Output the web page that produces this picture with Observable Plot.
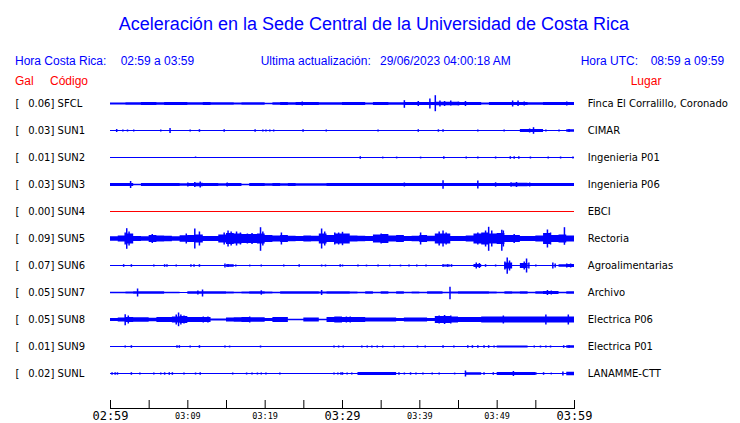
<!DOCTYPE html>
<html><head><meta charset="utf-8">
<script src="https://cdn.jsdelivr.net/npm/d3@7"></script>
<script src="https://cdn.jsdelivr.net/npm/@observablehq/plot@0.6"></script>
<style>
body{margin:0;background:#fff;}
#wrap{position:relative;width:740px;height:423px;overflow:hidden;background:#fff;font-family:"Liberation Sans",Arial,sans-serif;}
#hdr{position:relative;height:88px;}
.t{position:absolute;white-space:pre;line-height:1;font-size:12px;color:#0000ff;}
.r{color:#ff0000;}
#title{position:absolute;left:0;width:748px;text-align:center;top:14.8px;font-size:18px;line-height:1;color:#0000ff;}
#chart svg{display:block;}
</style></head>
<body><div id="wrap">
<div id="hdr">
<div id="title">Aceleración en la Sede Central de la Universidad de Costa Rica</div>
<div class="t" style="left:15px;top:54.8px">Hora Costa Rica:</div>
<div class="t" style="left:120.7px;top:54.8px">02:59 a 03:59</div>
<div class="t" style="left:260.7px;top:54.8px">Ultima actualización:</div>
<div class="t" style="left:380px;top:54.8px">29/06/2023 04:00:18 AM</div>
<div class="t" style="left:580.7px;top:54.8px">Hora UTC:</div>
<div class="t" style="left:650.7px;top:54.8px">08:59 a 09:59</div>
<div class="t r" style="left:15px;top:74.8px">Gal</div>
<div class="t r" style="left:50px;top:74.8px">Código</div>
<div class="t r" style="left:630.7px;top:74.8px">Lugar</div>
</div>
<div id="chart"></div>
</div>
<script>
// Stations
const stations = ["SFCL","SUN1","SUN2","SUN3","SUN4","SUN5","SUN6","SUN7","SUN8","SUN9","SUNL"];
const gal = [0.06,0.03,0.01,0.03,0.00,0.09,0.07,0.05,0.05,0.01,0.02];
const places = ["Finca El Corralillo, Coronado","CIMAR","Ingenieria P01","Ingenieria P06","EBCI","Rectoria","Agroalimentarias","Archivo","Electrica P06","Electrica P01","LANAMME-CTT"];

// Time axis (minutes after 02:59)
const tickMinutes = [0,5,10,15,20,25,30,35,40,45,50,55,60];
const majorTicks = [0,30,60];
const majorLabels = ["02:59","03:29","03:59"];
const minorTicks = [10,20,40,50];
const minorLabels = ["03:09","03:19","03:39","03:49"];

// Per-minute trace envelope (half amplitude, relative units)
const envSFCL = [1.0,1.0,1.2,1.3,1.5,1.5,1.3,1.5,1.5,1.5,1.3,1.2,1.5,1.3,1.3,1.3,1.0,1.3,1.2,1.3,0.8,1.3,1.5,1.2,1.6,1.6,1.5,1.3,1.2,1.3,1.5,1.5,1.5,1.0,1.5,1.5,1.3,1.3,1.5,1.5,1.5,1.5,1.7,1.7,1.7,1.5,1.5,1.5,1.0,1.5,1.5,1.5,1.6,1.6,1.3,1.2,1.5,1.5,1.5,1.5];
const envSUN1 = [0.5,0.5,0.5,0.5,0.5,0.5,0.5,0.5,0.5,0.5,0.5,0.5,0.5,0.5,0.5,0.5,0.5,0.5,0.5,0.5,0.5,0.5,0.5,0.5,0.5,0.5,0.5,0.5,0.5,0.5,0.5,0.5,0.5,0.5,0.5,0.5,0.5,0.5,0.5,0.5,0.5,0.5,0.5,0.5,0.5,0.5,0.5,0.5,0.5,0.5,0.5,0.5,0.5,1.5,1.5,1.5,0.5,0.5,0.5,1.2];
const envSUN2 = [0.5,0.5,0.5,0.5,0.5,0.5,0.5,0.5,0.5,0.5,0.5,0.5,0.5,0.5,0.5,0.5,0.5,0.5,0.5,0.5,0.5,0.5,0.5,0.5,0.5,0.5,0.5,0.5,0.5,0.5,0.5,0.5,0.5,0.5,0.5,0.5,0.5,0.5,0.5,0.5,0.5,0.5,0.5,0.5,0.5,0.5,0.5,0.5,0.5,0.5,0.5,0.5,0.5,0.5,0.5,0.5,0.5,0.5,0.5,0.5];
const envSUN3 = [1.5,1.5,1.5,0.8,1.5,1.5,1.5,1.5,1.5,1.3,1.5,1.8,1.5,1.5,1.3,1.5,1.5,0.8,1.5,1.5,1.3,1.5,1.3,1.5,1.2,1.3,1.3,1.3,1.5,1.5,1.5,1.5,1.5,1.5,1.5,1.5,1.5,1.5,1.5,1.5,1.5,1.5,1.5,1.5,1.5,1.5,1.5,1.5,1.5,1.5,1.5,1.5,1.7,1.7,1.5,1.5,1.5,1.5,1.5,1.5];
const envSUN4 = [0.5,0.5,0.5,0.5,0.5,0.5,0.5,0.5,0.5,0.5,0.5,0.5,0.5,0.5,0.5,0.5,0.5,0.5,0.5,0.5,0.5,0.5,0.5,0.5,0.5,0.5,0.5,0.5,0.5,0.5,0.5,0.5,0.5,0.5,0.5,0.5,0.5,0.5,0.5,0.5,0.5,0.5,0.5,0.5,0.5,0.5,0.5,0.5,0.5,0.5,0.5,0.5,0.5,0.5,0.5,0.5,0.5,0.5,0.5,0.5];
const envSUN5 = [2.3,3,5,2.5,2.3,3.5,3,2.8,2.3,3.2,3.5,4,2.5,2.5,4,5.5,5,4.5,4.5,5,3.5,3,3.5,2.8,2.5,3,2.8,5,3.5,5,5,3,2.8,2.5,4,4.5,3,3.5,2.5,2.8,3.5,2.8,5,5,2.5,2.5,3,5,6,5,5.5,3.5,3.5,2.5,2.5,3,5.5,3.5,4,3];
const envSUN6 = [0.5,0.5,0.5,0.5,0.5,0.5,0.5,0.5,0.5,0.5,0.5,0.5,0.5,0.5,0.5,1.2,0.5,0.5,0.5,0.5,0.5,0.5,0.5,0.5,0.5,0.5,0.5,0.5,0.5,0.5,0.5,0.5,0.5,0.5,0.5,0.5,0.5,0.5,0.5,0.5,0.5,0.5,0.5,1.0,0.5,0.5,0.5,1.5,0.5,0.5,0.5,3.0,0.5,2.5,0.5,0.5,0.5,0.5,1.2,1.5];
const envSUN7 = [0.8,0.8,1.0,1.3,1.3,1.3,1.3,0.8,0.7,0.6,1.3,1.3,1.3,1.3,1.3,1.0,0.7,1.0,1.3,1.3,1.0,0.8,1.3,1.3,1.3,1.3,1.3,1.0,1.3,1.3,1.3,1.0,0.8,1.3,0.8,1.3,0.7,1.2,0.7,1.0,0.7,1.2,1.2,0.8,1.0,1.3,1.3,1.2,1.3,1.0,0.7,1.3,1.0,1.3,0.8,1.2,1.5,1.5,0.8,1.3];
const envSUN8 = [1.5,2.0,2.5,2.3,2.3,1.8,2.5,2.5,3.0,3.5,2.5,2.5,2.5,1.0,1.0,2.0,2.2,2.5,2.2,2.2,1.5,2.5,2.5,0.8,0.8,2.0,2.0,0.8,2.5,3.0,2.5,2.5,2.5,2.0,2.0,2.0,2.0,1.5,2.0,2.0,2.0,1.5,3.5,3.5,3.0,2.5,2.5,2.5,3.0,3.0,3.0,3.0,3.0,3.0,3.0,3.0,3.0,3.0,3.0,3.0];
const envSUN9 = [0.5,0.5,0.5,0.5,0.5,0.5,0.5,0.5,0.5,0.5,0.5,0.5,0.5,0.5,0.5,0.5,0.5,0.5,0.5,0.5,0.5,0.5,0.5,0.5,0.5,0.5,0.5,0.5,0.5,0.5,0.5,0.5,0.5,0.5,0.5,0.5,0.5,0.5,0.5,0.5,0.5,0.5,0.5,0.5,0.5,0.5,0.5,0.5,0.5,0.5,1.0,1.0,1.0,1.0,0.5,0.5,0.5,0.5,0.5,1.2];
const envSUNL = [0.5,0.5,0.5,0.5,0.5,0.5,0.5,0.5,0.5,0.5,0.5,0.5,0.5,0.5,0.5,0.5,0.5,0.5,0.5,0.5,0.5,0.5,0.5,0.5,0.5,0.5,0.5,0.5,0.5,0.5,0.5,0.5,1.5,1.5,1.5,1.5,1.5,0.5,0.5,0.5,0.5,0.5,0.5,0.5,0.5,0.5,1.3,1.3,0.5,0.5,1.5,1.5,1.5,1.5,1.5,0.5,0.5,0.5,0.5,1.8];

// Individual peaks: [minute, up, down]
const spkSFCL = [[24.8,2,2],[38.0,3.3,4.3],[39.8,2.5,2.5],[41.3,5,5],[42.0,8.3,7.7],[42.6,3,3],[43.2,2.5,2.5],[44.0,3,2],[45.0,2,2],[45.9,2.5,2.5],[52.0,3,3],[52.7,3,2.5],[53.5,2,2],[59.0,2,2]];
const spkSUN1 = [[0.8,1.5,1.5],[1.6,1,1],[2.2,1,1],[3.0,1,1],[6.5,1,1],[7.7,2.5,2.5],[10.3,1,1],[11.5,1.3,1.3],[14.7,1.2,1.2],[18.7,1.3,1.3],[19.7,1,1],[20.1,1,1],[20.6,1,1],[21.1,1,1],[24.9,1.3,1.3],[27.9,1,1],[34.6,0.9,0.9],[39.8,1.3,1.3],[42.4,1.2,1.2],[43.0,1.3,1.3],[47.5,1,1],[50.9,0.9,0.9],[53.6,1.5,1.5],[54.2,2,2],[54.7,3.3,3.3],[55.1,1.5,1.5],[56.3,1,1],[58.0,1.1,1.1],[59.3,1.5,1.5]];
const spkSUN2 = [[11.0,1,0.5],[32.3,1.3,1.3],[35.2,0.9,0.9],[37.0,0.9,0.9],[40.1,0.9,0.9],[43.1,1.2,1.2],[46.0,0.9,0.9],[47.5,1,1],[49.8,1,1],[51.7,1.3,1.3],[52.2,1.3,1.3],[52.8,1.3,1.3],[54.3,1,1],[56.6,0.9,0.9],[58.2,1,1],[59.8,1,1]];
const spkSUN3 = [[2.6,3.5,3.5],[10.0,2,2],[10.9,2.5,2.5],[11.6,3,3],[15.1,2,2],[38.0,2,2],[43.0,4.3,4.3],[47.5,4,4],[49.8,2.2,2.2],[51.8,2.2,2.2],[52.5,2.5,2.5],[54.2,2,2]];
const spkSUN4 = [];
const spkSUN5 = [[1.9,6,6],[2.1,10.3,10.3],[2.4,7,7],[5.4,4.5,4.5],[9.8,5,5],[10.9,10,10],[11.5,7,7],[14.7,6,6],[15.2,8,8],[15.6,7,7],[16.3,7,7],[16.8,6,6],[17.7,5,5],[18.3,5.5,5.5],[19.4,11.3,12.3],[19.7,7,7],[22.1,6,6],[27.3,10,10],[27.7,7,7],[29.0,6,6],[29.5,6,6],[30.0,6.7,6.7],[35.0,5,5],[40.1,6,6],[42.5,7,7],[43.0,8,8],[43.4,6,6],[47.5,6,6],[48.5,8,8],[48.9,11.7,12.3],[49.3,8,8],[50.6,8.7,12.3],[50.8,8,8],[52.2,4.5,4.5],[56.5,9,9],[56.9,6,6],[58.7,11.3,6.3]];
const spkSUN6 = [[1.7,1.3,1.3],[2.7,1.3,1.3],[5.6,1,1],[7.0,1.3,1.3],[7.3,1.3,1.3],[8.5,1,1],[10.4,1.3,1.3],[10.8,1.3,1.3],[11.5,1.3,1.3],[14.8,2,2],[15.2,1.5,1.5],[16.2,1,1],[18.0,0.9,0.9],[19.5,1,1],[22.4,1,1],[24.4,1.3,1.3],[27.3,1,1],[27.8,1,1],[29.7,1.2,1.2],[30.0,1,1],[32.0,0.9,0.9],[33.1,0.9,0.9],[34.6,0.9,0.9],[36.1,0.9,0.9],[37.5,0.9,0.9],[38.6,1,1],[39.6,1,1],[40.8,0.9,0.9],[43.0,1.3,1.3],[43.6,1.3,1.3],[44.1,1.3,1.3],[47.3,3,3],[47.7,2.5,2.5],[48.5,1.3,1.3],[49.8,1,1],[51.0,4,4],[51.3,8,8.3],[51.6,5,5],[53.5,4,4],[53.8,7,7],[54.1,3,3],[55.0,1,1],[57.2,3,3],[57.5,2,2],[59.0,2,2],[59.5,2,2]];
const spkSUN7 = [[3.5,4,4],[11.3,2,2],[11.9,3,4],[19.5,2.2,2.2],[27.3,2.5,2.5],[43.9,5.7,6.7],[56.5,2.5,2.5],[57.0,2,2]];
const spkSUN8 = [[1.9,5.3,5.7],[2.3,4,4],[8.5,5,5],[8.8,7,6.7],[9.1,5,5],[9.5,4,4],[12.0,3,3],[12.6,3,3],[18.0,3,3],[30.5,3,3],[31.0,3,3],[42.5,4,4],[43.2,4.5,4.5],[44.0,4,4],[50.8,4,4],[56.3,5,5],[59.2,5,5]];
const spkSUN9 = [[1.9,1,1],[2.7,1.3,1.3],[8.6,1.3,1.3],[8.9,1.3,1.3],[10.3,1,1],[11.5,1.3,1.3],[14.8,0.9,0.9],[15.4,0.9,0.9],[19.4,1,1],[28.9,1,1],[29.5,1,1],[30.1,1,1],[32.5,1,1],[33.2,1,1],[33.8,1,1],[34.5,1,1],[35.2,1,1],[36.7,0.9,0.9],[37.9,0.9,0.9],[39.7,1,1],[40.7,0.9,0.9],[43.0,1.3,1.3],[44.4,0.9,0.9],[46.2,1.3,1.3],[46.8,1.3,1.3],[47.5,1.3,1.3],[48.3,1.3,1.3],[48.9,1.3,1.3],[49.6,1,1],[54.8,1,1],[55.6,1,1],[56.3,1,1],[56.9,1,1],[58.6,1.3,1.3],[59.3,1.3,1.3]];
const spkSUNL = [[0.2,1.2,1.2],[0.6,1.2,1.2],[0.9,1.2,1.2],[2.7,1.3,1.3],[3.8,1,1],[5.6,1,1],[6.5,1,1],[7.0,1.2,1.2],[7.6,1.3,1.3],[8.0,1.3,1.3],[9.5,1,1],[11.0,1,1],[11.6,1.3,1.3],[15.8,1,1],[17.6,1,1],[18.3,1,1],[19.0,1,1],[19.5,1,1],[20.1,1,1],[21.9,1,1],[28.9,1,1],[29.4,1,1],[29.8,1.3,1.3],[30.0,1.3,1.3],[30.6,1,1],[31.2,1,1],[37.3,1.2,1.2],[38.0,1,1],[38.8,1.2,1.2],[39.5,1,1],[40.4,0.9,0.9],[41.6,0.9,0.9],[42.5,0.9,0.9],[44.5,0.9,0.9],[45.9,3,3],[48.3,1.3,1.3],[49.5,1.3,1.3],[52.1,2.5,2.5],[55.0,1.3,1.3],[56.0,1.3,1.3],[57.0,0.9,0.9],[58.5,2,2]];

const envs = [envSFCL,envSUN1,envSUN2,envSUN3,envSUN4,envSUN5,envSUN6,envSUN7,envSUN8,envSUN9,envSUNL];
const spks = [spkSFCL,spkSUN1,spkSUN2,spkSUN3,spkSUN4,spkSUN5,spkSUN6,spkSUN7,spkSUN8,spkSUN9,spkSUNL];

const AMP_PER_ROW = 27; // amplitude units per row spacing
const rows = stations.map((s, i) => ({i, s, gal: gal[i], place: places[i], color: gal[i] === 0 ? "#ff0000" : "#0000ff"}));
const envPts = envs.flatMap((e, i) => [...e, e[e.length - 1]].map((a, m) => ({i, m, a, color: rows[i].color})));
const spkPts = spks.flatMap((arr, i) => arr.map(([m, up, dn]) => ({i, m, up, dn, color: rows[i].color})));

const chart = Plot.plot({
  width: 740, height: 335,
  marginLeft: 110, marginRight: 166, marginTop: 0, marginBottom: 15,
  x: {domain: [0, 60], axis: null},
  y: {domain: [-0.5, 10.5], range: [2, 299], axis: null},
  color: {type: "identity"},
  style: {fontFamily: "DejaVu Sans", fontSize: "10px", color: "black", background: "white", overflow: "visible"},
  marks: [
    Plot.areaY(envPts, {x: "m", y1: d => d.i - d.a / AMP_PER_ROW, y2: d => d.i + d.a / AMP_PER_ROW, z: "i", fill: "color", curve: "step-after"}),
    Plot.ruleX(spkPts, {x: "m", y1: d => d.i - d.up / AMP_PER_ROW, y2: d => d.i + d.dn / AMP_PER_ROW, stroke: "color", strokeWidth: 1.5}),
    Plot.text(rows, {y: "i", text: () => "[", frameAnchor: "left", dx: -95, textAnchor: "start", fill: "black"}),
    Plot.text(rows, {y: "i", text: d => `${d.gal.toFixed(2)}] ${d.s}`, frameAnchor: "left", dx: -82.3, textAnchor: "start", fill: "black"}),
    Plot.text(rows, {y: "i", text: "place", frameAnchor: "right", dx: 13.3, textAnchor: "start", fill: "black"}),
    Plot.frame({anchor: "bottom", stroke: "black"}),
    Plot.tickX(tickMinutes, {x: d => d, insetTop: 312, stroke: "black"}),
    Plot.axisX(majorTicks, {label: null, tickSize: 0, tickPadding: 3, tickFormat: d => majorLabels[majorTicks.indexOf(d)], fontFamily: "DejaVu Sans Mono", fontSize: 12, fill: "black"}),
    Plot.axisX(minorTicks, {label: null, tickSize: 0, tickPadding: 4, tickFormat: d => minorLabels[minorTicks.indexOf(d)], fontFamily: "DejaVu Sans Mono", fontSize: 8.5, fill: "black"})
  ]
});
document.getElementById("chart").appendChild(chart);
</script>
</body></html>
